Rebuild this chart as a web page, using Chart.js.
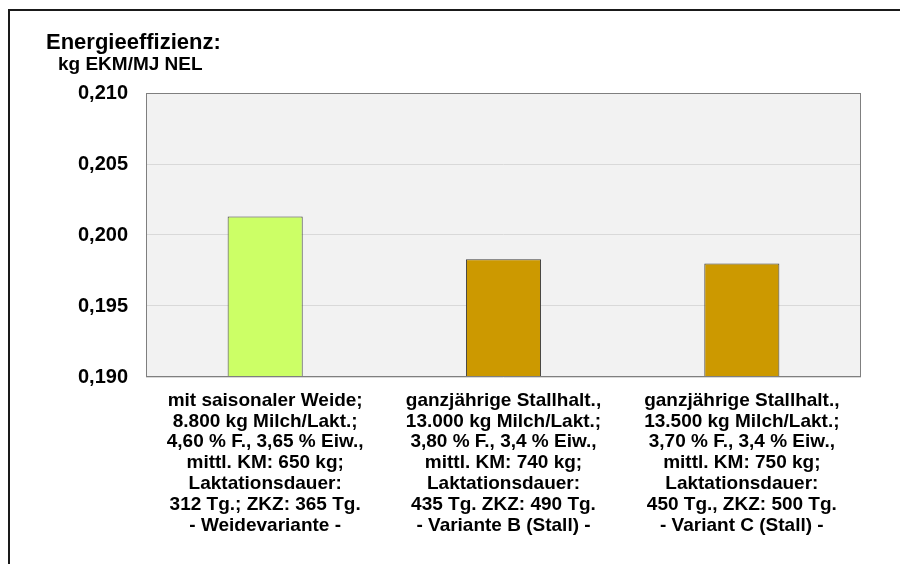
<!DOCTYPE html>
<html>
<head>
<meta charset="utf-8">
<script src="https://cdn.jsdelivr.net/npm/chart.js@4.4.1/dist/chart.umd.min.js"></script>
<style>
  html, body { margin: 0; padding: 0; background: #ffffff; }
  #wrap { width: 900px; height: 564px; position: relative; }
</style>
</head>
<body>
<div id="wrap"><canvas id="chart" width="900" height="564"></canvas></div>
<script>
// Energy efficiency of three dairy production variants
const categories = [
  ['mit saisonaler Weide;', '8.800 kg Milch/Lakt.;', '4,60 % F., 3,65 % Eiw.,', 'mittl. KM: 650 kg;', 'Laktationsdauer:', '312 Tg.; ZKZ: 365 Tg.', '- Weidevariante -'],
  ['ganzjährige Stallhalt.,', '13.000 kg Milch/Lakt.;', '3,80 % F., 3,4 % Eiw.,', 'mittl. KM: 740 kg;', 'Laktationsdauer:', '435 Tg. ZKZ: 490 Tg.', '- Variante B (Stall) -'],
  ['ganzjährige Stallhalt.,', '13.500 kg Milch/Lakt.;', '3,70 % F., 3,4 % Eiw.,', 'mittl. KM: 750 kg;', 'Laktationsdauer:', '450 Tg., ZKZ: 500 Tg.', '- Variant C (Stall) -']
];
const efficiency = [0.2013, 0.1983, 0.1980];   // kg EKM / MJ NEL
const barColors = ['#ccff66', '#cc9900', '#cc9900'];
const axisTitle = ['Energieeffizienz:', 'kg EKM/MJ NEL'];
const yMin = 0.190, yMax = 0.210, yStep = 0.005;

const FONT = '"Liberation Sans", Arial, Helvetica, sans-serif';

const frame = {
  id: 'frame',
  beforeDraw(chart) {
    const { ctx, chartArea: a } = chart;
    ctx.save();
    ctx.fillStyle = '#f2f2f2';
    ctx.fillRect(a.left, a.top, a.right - a.left, a.bottom - a.top);
    ctx.restore();
  },
  afterDraw(chart) {
    const { ctx, chartArea: a } = chart;
    ctx.save();
    // plot border
    ctx.strokeStyle = '#7f7f7f';
    ctx.lineWidth = 1;
    ctx.strokeRect(Math.round(a.left) + 0.5, Math.round(a.top) + 0.5,
                   Math.round(a.right - a.left) - 1, Math.round(a.bottom - a.top) - 1);
    // outer frame
    ctx.strokeStyle = '#1a1a1a';
    ctx.lineWidth = 2;
    ctx.strokeRect(9, 10, 1000, 700);
    // axis title
    ctx.fillStyle = '#000000';
    ctx.textBaseline = 'alphabetic';
    ctx.textAlign = 'left';
    ctx.font = 'bold 22px ' + FONT;
    ctx.fillText(axisTitle[0], 46, 49);
    ctx.font = 'bold 19px ' + FONT;
    ctx.fillText(axisTitle[1], 58, 70);
    ctx.restore();
  }
};

new Chart(document.getElementById('chart'), {
  type: 'bar',
  data: {
    labels: categories,
    datasets: [{
      data: efficiency,
      backgroundColor: barColors,
      borderColor: '#404040',
      borderWidth: 1,
      borderSkipped: false,
      categoryPercentage: 1.0,
      barPercentage: 0.315
    }]
  },
  options: {
    responsive: false,
    animation: false,
    devicePixelRatio: 1,
    layout: { padding: { left: 0, top: 93, right: 39, bottom: 0 } },
    plugins: {
      legend: { display: false },
      tooltip: { enabled: false },
      title: { display: false }
    },
    scales: {
      x: {
        grid: { display: false, drawTicks: false },
        border: { display: false },
        ticks: {
          color: '#000000',
          font: { family: FONT, size: 19, weight: 'bold', lineHeight: 1.1 },
          padding: 13,
          maxRotation: 0,
          autoSkip: false
        },
        afterFit(scale) { scale.height = 564 - 377; }
      },
      y: {
        min: yMin,
        max: yMax,
        grid: { color: '#d9d9d9', lineWidth: 1, drawTicks: false },
        border: { display: false },
        ticks: {
          stepSize: yStep,
          color: '#000000',
          font: { family: FONT, size: 20, weight: 'bold' },
          padding: 18,
          callback: v => v.toFixed(3).replace('.', ',')
        },
        afterFit(scale) { scale.width = 146; }
      }
    }
  },
  plugins: [frame]
});
</script>
</body>
</html>
